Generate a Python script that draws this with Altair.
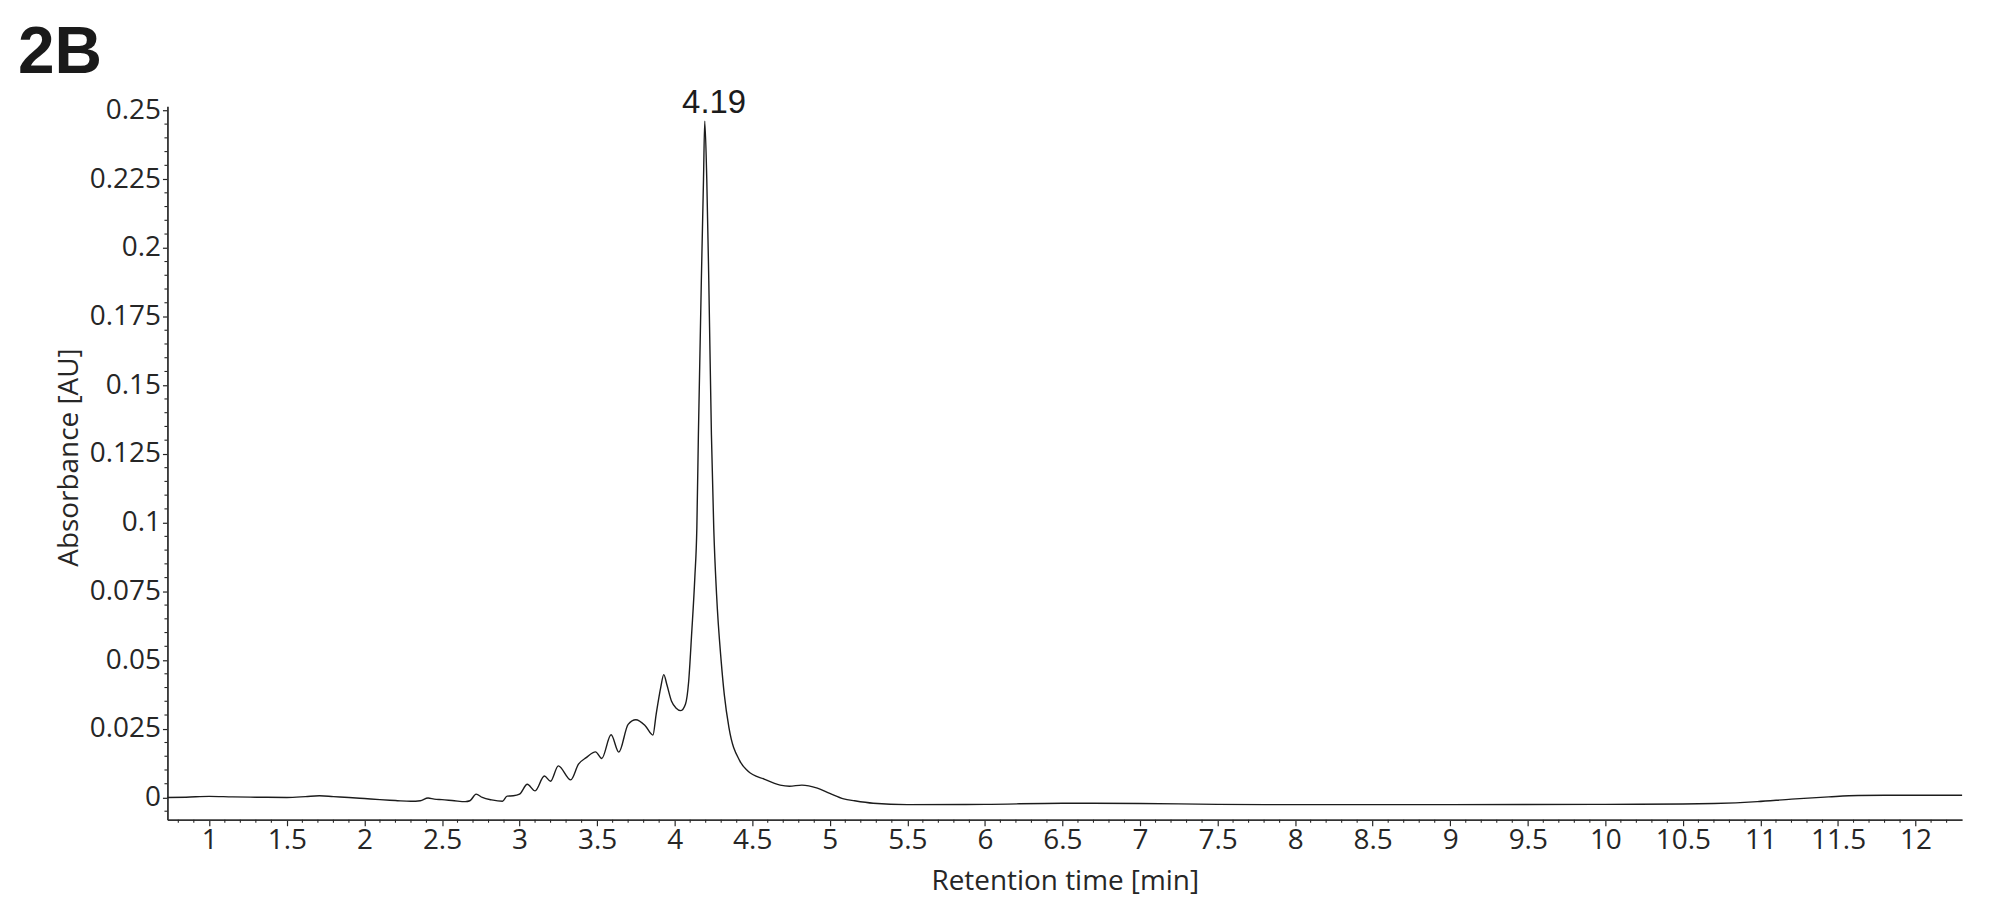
import pandas as pd
import altair as alt

# --- data ---
time_min = [
    0.73, 0.85, 1.00, 1.15, 1.30, 1.50, 1.62, 1.71, 1.80, 1.90,
    2.00, 2.10, 2.20, 2.30, 2.36, 2.41, 2.45, 2.50, 2.58, 2.65,
    2.68, 2.72, 2.76, 2.82, 2.89, 2.92, 2.96, 3.00, 3.05, 3.10,
    3.16, 3.20, 3.25, 3.33, 3.38, 3.43, 3.49, 3.53, 3.59, 3.64,
    3.70, 3.75, 3.81, 3.86, 3.88, 3.91, 3.93, 3.95, 3.98, 4.01,
    4.04, 4.07, 4.09, 4.11, 4.13, 4.143, 4.153, 4.172, 4.186, 4.194,
    4.207, 4.22, 4.237, 4.252, 4.27, 4.30, 4.32, 4.35, 4.42, 4.47,
    4.58, 4.68, 4.74, 4.82, 4.92, 5.00, 5.09, 5.16, 5.28, 5.50,
    6.00, 6.50, 7.00, 7.50, 8.00, 9.00, 10.00, 10.50, 10.70, 10.98,
    11.20, 11.44, 11.63, 11.80, 12.30,
]
absorbance = [
    0.0000, 0.0001, 0.0004, 0.0002, 0.0001, 0.0000, 0.0003, 0.0006, 0.0003, 0.0000,
    -0.0004, -0.0008, -0.0011, -0.0014, -0.0012, -0.0002, -0.0006, -0.0008, -0.0012, -0.0015,
    -0.0012, 0.0012, 0.0000, -0.0009, -0.0014, 0.0005, 0.0006, 0.0012, 0.0048, 0.0024,
    0.0078, 0.0059, 0.0115, 0.0064, 0.0121, 0.0145, 0.0166, 0.0142, 0.0228, 0.0165,
    0.0266, 0.0283, 0.0261, 0.0227, 0.0300, 0.0400, 0.0447, 0.0410, 0.0350, 0.0325,
    0.0316, 0.0340, 0.0420, 0.0600, 0.0800, 0.0980, 0.1320, 0.1880, 0.2250, 0.2461,
    0.2250, 0.1880, 0.1320, 0.0980, 0.0740, 0.0495, 0.0374, 0.0254, 0.0133, 0.0097,
    0.0066, 0.0045, 0.0041, 0.0045, 0.0034, 0.0015, -0.0005, -0.0012, -0.0021, -0.0026,
    -0.0025, -0.0021, -0.0022, -0.0025, -0.0026, -0.0026, -0.0025, -0.0024, -0.0022, -0.0015,
    -0.0006, 0.0002, 0.0007, 0.0008, 0.0008,
]

peak_time = [4.19]
peak_height = [0.2461]
peak_text = ["4.19"]
panel_text = ["2B"]

x_major = [1, 1.5, 2, 2.5, 3, 3.5, 4, 4.5, 5, 5.5, 6, 6.5, 7, 7.5, 8, 8.5,
           9, 9.5, 10, 10.5, 11, 11.5, 12]
y_major = [0, 0.025, 0.05, 0.075, 0.1, 0.125, 0.15, 0.175, 0.2, 0.225, 0.25]
x_minor = [round(0.8 + 0.1 * i, 1) for i in range(115) if (8 + i) % 5 != 0]
y_minor = [round(-0.005 + 0.005 * i, 3) for i in range(52) if (i - 1) % 5 != 0]

x_domain = [0.73, 12.30]
y_domain = [-0.0081, 0.2515]
W, H = 1801, 716
INK = "#262626"
FONT = "Open Sans"

df = pd.DataFrame({"t": time_min, "v": absorbance})
df_peak = pd.DataFrame({"t": peak_time, "v": peak_height, "label": peak_text})

xs = alt.Scale(domain=x_domain, nice=False, zero=False)
ys = alt.Scale(domain=y_domain, nice=False, zero=False)

line = alt.Chart(df).mark_line(color="#1c1c1c", strokeWidth=1.4, interpolate="monotone").encode(
    x=alt.X("t:Q", scale=xs, axis=alt.Axis(
        title="Retention time [min]", values=x_major, format="~g", grid=False,
        tickSize=6, labelPadding=1, titleY=70, titleBaseline="alphabetic",
    )),
    y=alt.Y("v:Q", scale=ys, axis=alt.Axis(
        title="Absorbance [AU]", values=y_major, format=".3~g", grid=False,
        tickSize=5, labelPadding=2,
        titleX=-98, titleY=352, titleBaseline="middle", titleAngle=-90,
    )),
)

peak_label = alt.Chart(df_peak).mark_text(
    font="Liberation Sans", fontSize=33, color="#1c1c1c",
    align="center", baseline="alphabetic", dx=10, dy=-8,
).encode(x=alt.X("t:Q", scale=xs), y=alt.Y("v:Q", scale=ys), text="label:N")

# panel letter, top-left of the figure
panel = alt.Chart(pd.DataFrame({"label": panel_text})).mark_text(
    font="Liberation Sans", fontSize=66, fontWeight="bold", color="#1a1a1a",
    align="left", baseline="alphabetic",
).encode(x=alt.value(-150), y=alt.value(-33), text="label:N")

# minor ticks
x_ticks = alt.Chart(pd.DataFrame({"t": x_minor})).mark_rule(color=INK, strokeWidth=1.1).encode(
    x=alt.X("t:Q", scale=xs), y=alt.value(H), y2=alt.value(H + 3)
)
y_ticks = alt.Chart(pd.DataFrame({"v": y_minor})).mark_rule(color=INK, strokeWidth=1.1).encode(
    y=alt.Y("v:Q", scale=ys), x=alt.value(0), x2=alt.value(-3)
)

chart = alt.layer(line, x_ticks, y_ticks, peak_label, panel).properties(
    width=W,
    height=H,
    background="#ffffff",
    autosize=alt.AutoSizeParams(type="none"),
    padding={"left": 160, "top": 97, "right": 30, "bottom": 90},
).configure_view(
    stroke="transparent", strokeWidth=0
).configure_axis(
    labelFont=FONT, titleFont=FONT, labelFontSize=28, titleFontSize=28,
    labelColor=INK, titleColor=INK, titleFontWeight="normal",
    domainColor="#333333", domainWidth=1.8, tickColor=INK, tickWidth=1.2,
    labelFlush=False, labelOverlap=False,
)

chart.save("out.html", embed_options={"renderer": "svg", "actions": False})
